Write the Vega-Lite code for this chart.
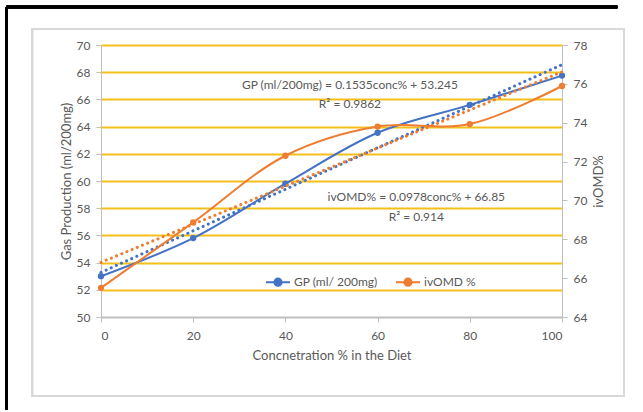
{
  "$schema": "https://vega.github.io/schema/vega-lite/v6.json",
  "width": 461,
  "height": 272,
  "autosize": "none",
  "padding": {"left": 101, "top": 45, "right": 81, "bottom": 95},
  "background": "white",
  "config": {
    "view": {"stroke": null},
    "font": "Lato",
    "axis": {
      "labelColor": "#595959",
      "labelFontSize": 12,
      "titleColor": "#595959",
      "titleFontSize": 13,
      "titleFontWeight": "normal",
      "domainColor": "#BFBFBF",
      "tickColor": "#BFBFBF",
      "tickSize": 5
    }
  },
  "data": {
    "values": [
      {"conc": 0, "series": "GP (ml/ 200mg)", "value": 53.0},
      {"conc": 20, "series": "GP (ml/ 200mg)", "value": 55.8},
      {"conc": 40, "series": "GP (ml/ 200mg)", "value": 59.8},
      {"conc": 60, "series": "GP (ml/ 200mg)", "value": 63.55},
      {"conc": 80, "series": "GP (ml/ 200mg)", "value": 65.6},
      {"conc": 100, "series": "GP (ml/ 200mg)", "value": 67.75},
      {"conc": 0, "series": "ivOMD %", "value": 65.5},
      {"conc": 20, "series": "ivOMD %", "value": 68.87},
      {"conc": 40, "series": "ivOMD %", "value": 72.3},
      {"conc": 60, "series": "ivOMD %", "value": 73.8},
      {"conc": 80, "series": "ivOMD %", "value": 73.93},
      {"conc": 100, "series": "ivOMD %", "value": 75.89}
    ]
  },
  "encoding": {
    "x": {
      "field": "conc",
      "type": "quantitative",
      "scale": {"domain": [0, 100], "nice": false, "zero": false},
      "axis": {
        "title": "Concnetration % in the Diet",
        "values": [0, 20, 40, 60, 80, 100],
        "grid": false,
        "labelPadding": 8,
        "titlePadding": 8
      }
    }
  },
  "layer": [
    {
      "encoding": {
        "y": {
          "field": "value",
          "type": "quantitative",
          "scale": {"domain": [50, 70], "nice": false, "zero": false},
          "axis": {
            "orient": "left",
            "title": "Gas Production (ml/200mg)",
            "values": [50, 52, 54, 56, 58, 60, 62, 64, 66, 68, 70],
            "grid": true,
            "gridColor": {"condition": {"test": "datum.value === 50", "value": "#BFBFBF"}, "value": "#F5BF1B"},
            "gridWidth": 1.8,
            "labelPadding": 6,
            "titlePadding": 3
          }
        }
      },
      "layer": [
        {
          "mark": {"type": "rect", "fill": null, "stroke": "#D9D9D9", "strokeWidth": 1.5, "clip": false},
          "encoding": {
            "x": {"datum": -14.9},
            "x2": {"datum": 113.5},
            "y": {"datum": 71.18},
            "y2": {"datum": 44.19}
          }
        },
        {
          "mark": {"type": "rule", "color": "#000000", "strokeWidth": 2.5, "clip": false},
          "encoding": {
            "x": {"datum": -20.5},
            "y": {"datum": 72.8},
            "y2": {"datum": 43.2}
          }
        },
        {
          "mark": {"type": "rule", "color": "#000000", "strokeWidth": 2.5, "clip": false},
          "encoding": {
            "x": {"datum": -20.5},
            "x2": {"datum": 112},
            "y": {"datum": 72.8}
          }
        },
        {
          "transform": [
            {"filter": "datum.series === 'GP (ml/ 200mg)'"},
            {"regression": "value", "on": "conc", "extent": [0, 100]}
          ],
          "mark": {"type": "line", "color": "#4472C4", "strokeWidth": 3, "strokeDash": [0.1, 5.5], "strokeCap": "round"},
          "encoding": {"x": {"field": "conc", "type": "quantitative"}, "y": {"field": "value", "type": "quantitative"}}
        },
        {
          "transform": [{"filter": "datum.series === 'GP (ml/ 200mg)'"}],
          "mark": {"type": "line", "interpolate": "catmull-rom", "strokeWidth": 2},
          "encoding": {
            "color": {
              "field": "series",
              "type": "nominal",
              "scale": {"domain": ["GP (ml/ 200mg)", "ivOMD %"], "range": ["#4472C4", "#ED7D31"]},
              "legend": {
                "title": null,
                "orient": "none",
                "legendX": 164,
                "legendY": 224,
                "direction": "horizontal",
                "symbolType": "M-1,0L-0.3,0M0.3,0L1,0M-0.3,0A0.3,0.3,0,1,1,0.3,0A0.3,0.3,0,1,1,-0.3,0",
                "symbolSize": 576,
                "symbolStrokeWidth": 2,
                "labelFontSize": 12,
                "labelColor": "#595959",
                "labelOffset": 3,
                "columnPadding": 14,
                "encode": {"symbols": {"update": {"fill": {"field": "value", "scale": "color"}, "stroke": {"field": "value", "scale": "color"}}}}
              }
            }
          }
        },
        {
          "transform": [{"filter": "datum.series === 'GP (ml/ 200mg)'"}],
          "mark": {"type": "point", "filled": true, "size": 40, "opacity": 1},
          "encoding": {"color": {"field": "series", "type": "nominal"}}
        },
        {
          "data": {
            "values": [
              {"label": "GP (ml/200mg) = 0.1535conc% + 53.245", "conc": 54, "value": 67.06},
              {"label": "R² = 0.9862", "conc": 54, "value": 65.66},
              {"label": "ivOMD% = 0.0978conc% + 66.85", "conc": 68.4, "value": 58.82},
              {"label": "R² = 0.914", "conc": 68.4, "value": 57.35}
            ]
          },
          "mark": {"type": "text", "fontSize": 12, "color": "#595959", "align": "center", "baseline": "middle"},
          "encoding": {"text": {"field": "label", "type": "nominal"}}
        }
      ]
    },
    {
      "encoding": {
        "y": {
          "field": "value",
          "type": "quantitative",
          "scale": {"domain": [64, 78], "nice": false, "zero": false},
          "axis": {
            "orient": "right",
            "title": "ivOMD%",
            "titleAngle": -90,
            "titleBaseline": "top",
            "values": [64, 66, 68, 70, 72, 74, 76, 78],
            "grid": false,
            "labelPadding": 6,
            "titlePadding": 6
          }
        }
      },
      "layer": [
        {
          "transform": [
            {"filter": "datum.series === 'ivOMD %'"},
            {"regression": "value", "on": "conc", "extent": [0, 100]}
          ],
          "mark": {"type": "line", "color": "#ED7D31", "strokeWidth": 3, "strokeDash": [0.1, 5.5], "strokeCap": "round"},
          "encoding": {"x": {"field": "conc", "type": "quantitative"}, "y": {"field": "value", "type": "quantitative"}}
        },
        {
          "transform": [{"filter": "datum.series === 'ivOMD %'"}],
          "mark": {"type": "line", "interpolate": "catmull-rom", "strokeWidth": 2},
          "encoding": {"color": {"field": "series", "type": "nominal"}}
        },
        {
          "transform": [{"filter": "datum.series === 'ivOMD %'"}],
          "mark": {"type": "point", "filled": true, "size": 40, "opacity": 1},
          "encoding": {"color": {"field": "series", "type": "nominal"}}
        }
      ]
    }
  ],
  "resolve": {"scale": {"y": "independent"}}
}
